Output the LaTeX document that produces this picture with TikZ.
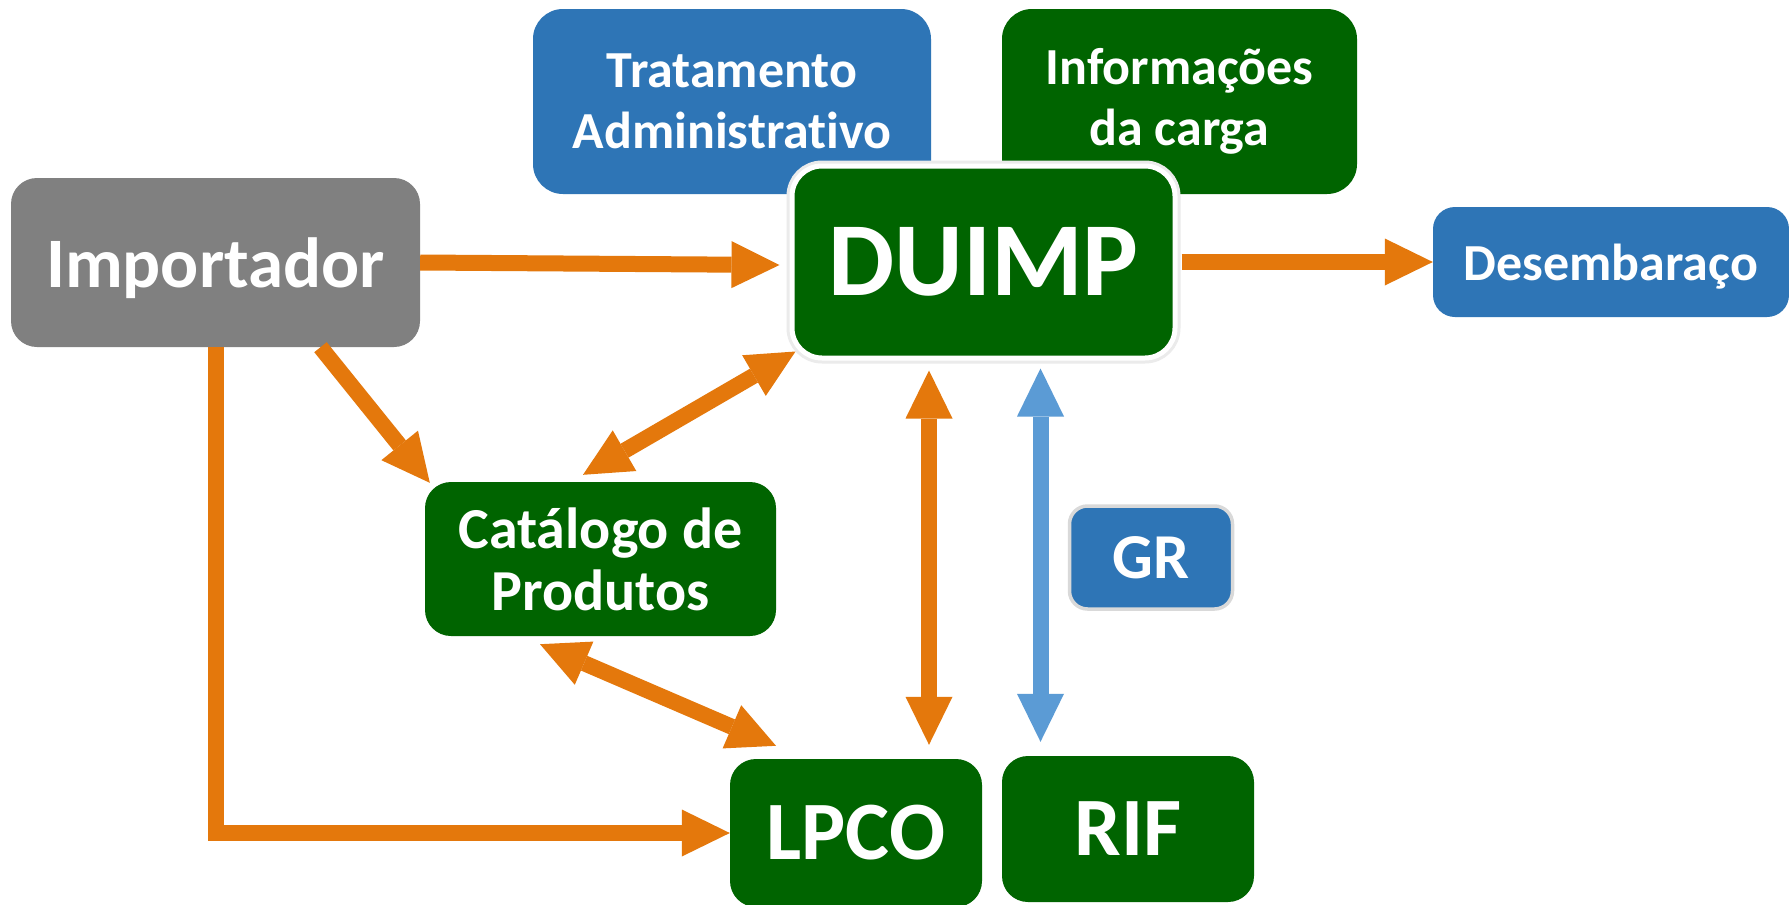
\documentclass[tikz,border=0pt]{standalone}
\usepackage{fontspec}
\setmainfont{Carlito}[Ligatures=NoCommon]
\usetikzlibrary{arrows.meta,calc}
\definecolor{dgreen}{RGB}{0,100,0}
\definecolor{mblue}{RGB}{46,117,182}
\definecolor{lblue}{RGB}{91,155,213}
\definecolor{orng}{RGB}{228,120,12}
\definecolor{mgrey}{RGB}{128,128,128}
\definecolor{lgrey}{RGB}{217,217,217}
\begin{document}
\begin{tikzpicture}[x=1pt,y=-1pt,
  box/.style={draw=none, text=white, align=center, inner sep=0pt, rounded corners=26pt},
  mid/.style={font=\bfseries\fontsize{52}{61}\selectfont},
  oarr/.style={draw=orng, line width=16pt, line join=miter, -{Triangle[width=47pt,length=48pt,line width=0pt]}},
  odbl/.style={draw=orng, line width=16pt, {Triangle[width=47pt,length=48pt,line width=0pt]}-{Triangle[width=47pt,length=48pt,line width=0pt]}},
  bdbl/.style={draw=lblue, line width=16pt, {Triangle[width=47pt,length=48pt,line width=0pt]}-{Triangle[width=47pt,length=48pt,line width=0pt]}}]
\fill[white] (0,0) rectangle (1789,905);
\useasboundingbox (0,0) rectangle (1789,905);

\node[box, mid, fill=mblue, minimum width=398pt, minimum height=185pt, rounded corners=30pt] (trat) at (732,101.5) {Tratamento\\Administrativo};
\node[box, mid, fill=dgreen, minimum width=355pt, minimum height=185pt, rounded corners=30pt] (info) at (1179.5,101.5) {Informações\\da carga};

\node[box, fill=dgreen, minimum width=383pt, minimum height=192pt, rounded corners=30pt,
  draw=white, line width=5pt, preaction={draw=black!8, line width=11pt},
  font=\bfseries\fontsize{105}{120}\selectfont] (duimp) at (983.5,262) {DUIMP};

\node[box, fill=mgrey, minimum width=409pt, minimum height=169pt, text depth=0pt,
  font=\bfseries\fontsize{71}{85}\selectfont] (imp) at (215.5,262.5) {Importador};

\node[box, mid, fill=mblue, minimum width=356pt, minimum height=110pt, text depth=0pt, rounded corners=22pt] (desemb) at (1611,262) {Desembaraço};

\node[box, fill=dgreen, minimum width=351pt, minimum height=154pt,
  font=\bfseries\fontsize{58}{62}\selectfont] (cat) at (600.5,559) {Catálogo de\\Produtos};

\node[box, fill=mblue, minimum width=163pt, minimum height=103pt, rounded corners=18pt,
  draw=lgrey, line width=3.5pt, font=\bfseries\fontsize{64}{70}\selectfont] (gr) at (1151,557.5) {GR};

\node[box, fill=dgreen, minimum width=252pt, minimum height=148pt,
  font=\bfseries\fontsize{83}{100}\selectfont] (lpco) at (856,833) {LPCO};
\node[box, fill=dgreen, minimum width=252pt, minimum height=146pt,
  font=\bfseries\fontsize{83}{100}\selectfont] (rif) at (1128,829) {RIF};

\draw[oarr] (imp.east) -- ($(duimp.west)+(-10,3)$);
\draw[oarr] ($(duimp.east)+(4,0)$) -- (desemb.west);
\draw[oarr] ($(imp.south)+(105,0)$) -- ($(cat.north west)+(5,1)$);
\draw[odbl] ($(cat.north)+(-17.5,-7)$) -- ($(duimp.south west)+(6,-9)$);
\draw[odbl] ($(cat.south)+(-60.5,8)$) -- ($(lpco.north)+(-80,-13)$);
\draw[odbl] ($(duimp.south)+(-54.5,10)$) -- ($(lpco.north)+(73,-14)$);
\draw[bdbl] ($(duimp.south)+(57,8)$) -- ($(rif.north)+(-87.5,-14)$);
\draw[oarr] (imp.south) |- (lpco.west);
\end{tikzpicture}
\end{document}
